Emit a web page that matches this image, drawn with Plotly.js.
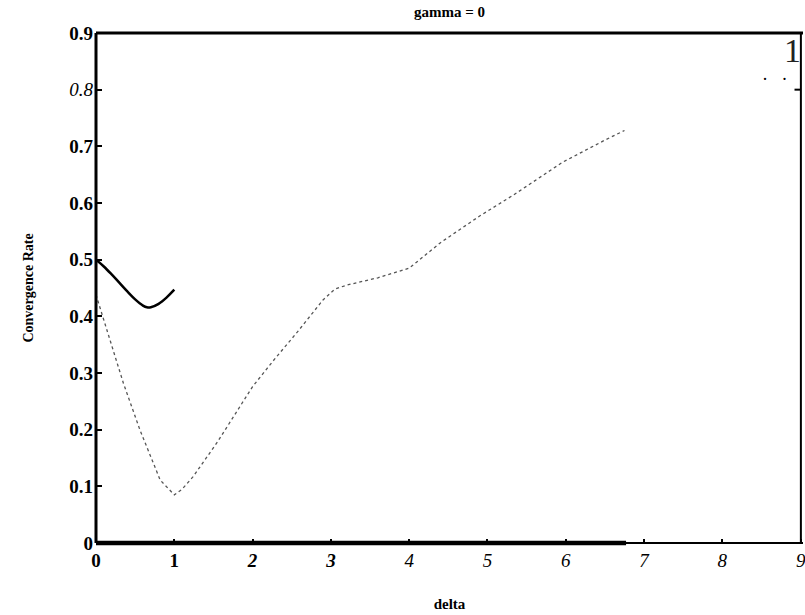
<!DOCTYPE html>
<html>
<head>
<meta charset="utf-8">
<script src="https://cdn.plot.ly/plotly-3.0.1.min.js"></script>
<style>html,body{margin:0;padding:0;background:#fff;}#chart{width:805px;height:615px;}</style>
</head>
<body>
<div id="chart"></div>
<script>
// Solid curve (delta 0..1)
const solidDelta = [0, 0.1, 0.2, 0.3, 0.4, 0.5, 0.6, 0.65, 0.7, 0.8, 0.9, 1.0];
const solidRate  = [0.500, 0.488, 0.474, 0.459, 0.444, 0.430, 0.419, 0.416, 0.416, 0.422, 0.433, 0.447];

// Dotted curve
const dotDelta = [0, 0.35, 0.56, 0.82, 1.0, 1.1, 1.24, 1.55, 2.0, 2.29, 2.57, 2.9, 3.05, 3.2, 3.6, 4.0, 4.4, 4.9, 5.33, 5.96, 6.5, 6.75];
const dotRate  = [0.438, 0.282, 0.200, 0.111, 0.085, 0.095, 0.117, 0.178, 0.276, 0.326, 0.372, 0.429, 0.448, 0.455, 0.468, 0.485, 0.530, 0.577, 0.614, 0.672, 0.711, 0.728];

// Tick labels
const yTickVals = [0, 0.1, 0.2, 0.3, 0.4, 0.5, 0.6, 0.7, 0.8, 0.9];
const yTickText = ['<b>0</b>', '<b>0.1</b>', '<b>0.2</b>', '<b>0.3</b>', '<b>0.4</b>', '<b>0.5</b>', '<b>0.6</b>', '<b>0.7</b>', '<i>0.8</i>', '<b>0.9</b>'];
const xTickVals = [0, 1, 2, 3, 4, 5, 6, 7, 8, 9];
const xTickText = ['<b>0</b>', '<b>1</b>', '<b><i>2</i></b>', '<b><i>3</i></b>', '<i>4</i>', '<i>5</i>', '<i>6</i>', '<i>7</i>', '<i>8</i>', '<i>9</i>'];

const serif = 'Liberation Serif, Times New Roman, serif';

const traces = [
  {x: solidDelta, y: solidRate, mode: 'lines', line: {color: '#000', width: 2.5, shape: 'spline'}, hoverinfo: 'none'},
  {x: dotDelta, y: dotRate, mode: 'lines', line: {color: '#555', width: 1.3, dash: 'dot'}, hoverinfo: 'none'}
];

const layout = {
  width: 805, height: 615,
  margin: {l: 96, r: 2, t: 33, b: 72},
  paper_bgcolor: '#fff', plot_bgcolor: '#fff',
  showlegend: false,
  title: {text: '<b>gamma = 0</b>', font: {family: serif, size: 15, color: '#000'},
          xref: 'paper', x: 0.5, xanchor: 'center', yref: 'container', y: 0.99, yanchor: 'top'},
  xaxis: {
    range: [0, 9.03], showgrid: false, zeroline: false, showline: false,
    tickvals: xTickVals, ticktext: xTickText, ticks: 'inside', ticklen: 4, tickwidth: 2, tickcolor: '#000',
    ticklabeloverflow: 'allow', ticklabelstandoff: 4,
    tickfont: {family: serif, size: 19, color: '#000'},
    title: {text: '<b>delta</b>', font: {family: serif, size: 15, color: '#000'}, standoff: 28}
  },
  yaxis: {
    range: [0, 0.9], showgrid: false, zeroline: false, showline: false,
    tickvals: yTickVals, ticktext: yTickText, ticks: 'inside', ticklen: 6, tickwidth: 2, tickcolor: '#000',
    ticklabelstandoff: 2,
    tickfont: {family: serif, size: 19, color: '#000'},
    title: {text: '<b>Convergence Rate</b>', font: {family: serif, size: 14, color: '#000'}, standoff: 32}
  },
  shapes: [
    {type: 'line', xref: 'paper', yref: 'paper', x0: 0, x1: 1, y0: 1, y1: 1, line: {color: '#000', width: 3}},
    {type: 'line', xref: 'paper', yref: 'paper', x0: 0, x1: 0, y0: 0, y1: 1, line: {color: '#000', width: 3}},
    {type: 'line', xref: 'paper', yref: 'paper', x0: 0, x1: 1, y0: 0, y1: 0, line: {color: '#000', width: 2}},
    {type: 'line', xref: 'x', yref: 'paper', x0: 0, x1: 6.77, y0: 0, y1: 0, line: {color: '#000', width: 4.5}},
    {type: 'line', xref: 'paper', yref: 'paper', x0: 0.997, x1: 0.997, y0: 0, y1: 1, line: {color: '#000', width: 2}},
    {type: 'line', xref: 'paper', yref: 'y', x0: 0.988, x1: 0.997, y0: 0.8, y1: 0.8, line: {color: '#000', width: 2}}
  ],
  annotations: [
    {text: '1', xref: 'paper', yref: 'paper', x: 1.0, y: 0.965, xanchor: 'right', yanchor: 'middle', showarrow: false,
     font: {family: serif, size: 34, color: '#222', weight: 300}},
    {text: '·&nbsp;&nbsp;&nbsp;·', xref: 'paper', yref: 'paper', x: 0.96, y: 0.91, xanchor: 'center', yanchor: 'middle', showarrow: false,
     font: {family: serif, size: 18, color: '#000'}}
  ]
};

Plotly.newPlot('chart', traces, layout, {displayModeBar: false, staticPlot: true});
</script>
</body>
</html>
